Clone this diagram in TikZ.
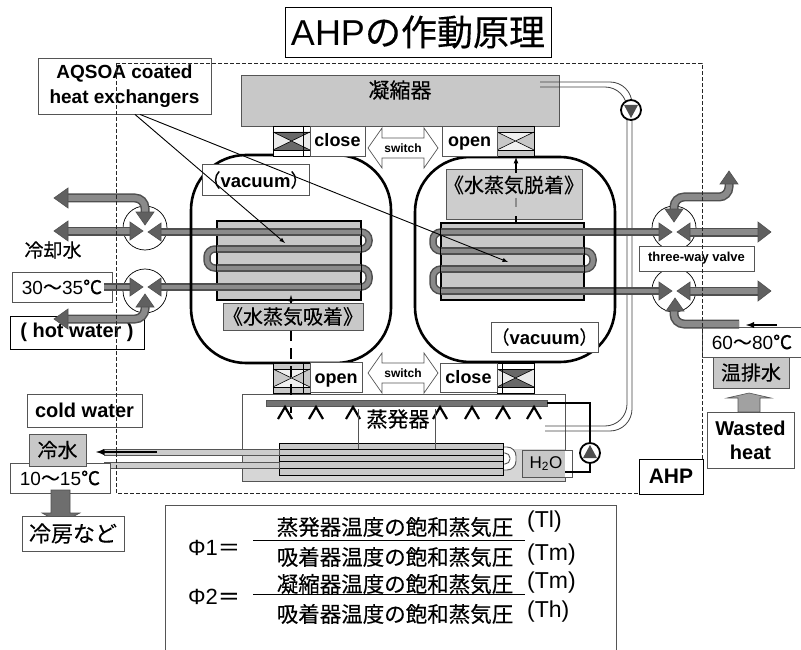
\documentclass[tikz,border=0pt]{standalone}
\usepackage{fontspec}
\setmainfont{Liberation Sans}
\newfontfamily\cjk[FakeBold=0.25]{Noto Sans CJK JP}
\usepackage{xcolor}
\usepackage{tikz}
\definecolor{panel}{HTML}{C8C8C8}
\definecolor{edgegray}{HTML}{555555}
\definecolor{tubedark}{HTML}{4F4F4F}
\definecolor{tubelight}{HTML}{8A8A8A}
\newcommand\fsz[1]{\fontsize{#1}{#1}\selectfont}
\newcommand\tipat[3]{\draw[tipmark,shift={(#1,#2)},rotate=#3] (0,0) -- (-13,-9) -- (-13,9) -- cycle;}
\tikzset{
  labelbox/.style={draw=edgegray,fill=white,line width=0.9pt,inner sep=0pt,align=center},
  graybox/.style={labelbox,fill=panel},
  gatelabel/.style={labelbox,boldtxt=18,text height=13pt,text depth=1pt},
  tube/.style={line width=7.5pt,draw=tubedark,rounded corners=8pt,postaction={draw=tubelight,line width=4.5pt}},
  duct/.style={line width=9pt,draw=tubedark,rounded corners=10pt,postaction={draw=tubelight,line width=6pt}},
  tipmark/.style={fill=gray!75!black,draw=tubedark,line width=0.6pt},
  gatebox/.style={draw=black,line width=0.8pt,inner sep=0pt,minimum width=37pt,minimum height=30pt},
  vesselline/.style={draw=black,line width=2.6pt,rounded corners=55pt},
  threeway/.style={circle,draw=black,line width=0.7pt,fill=white,minimum size=44pt,inner sep=0pt},
  pump/.style={circle,draw=black,line width=1.8pt,fill=white,minimum size=20pt,inner sep=0pt},
  chevron/.style={draw=black,line width=2.2pt},
  thinpipe/.style={draw=black!75,line width=0.8pt,rounded corners=22pt},
  boldtxt/.style={font=\bfseries\fsz{#1}},
  plain/.style={font=\cjk\fsz{#1},inner sep=0pt},
}
\begin{document}
\begin{tikzpicture}[x=1pt,y=-1pt]
  \useasboundingbox (0,0) rectangle (801,650);
  \node[labelbox,minimum width=266,minimum height=50,font=\fsz{36},draw=black] (title) at (418,32) {AHP{\cjk の作動原理}};

  % condenser and evaporator
  \node[graybox,minimum width=318,minimum height=51] (cond) at (400,100.5) {};
  \node[plain=21] (condtxt) at (400,90) {凝縮器};
  \draw[edgegray,line width=0.9pt] (242,394) rectangle (565,481);
  \fill[black!16] (242,449) rectangle (565,481);
  \draw[edgegray,line width=0.9pt] (242,394) rectangle (565,481);

  % double pipe behind everything
  \draw[thinpipe] (540,82) -- (632,82) -- (632,431) -- (545,431);
  \draw[thinpipe] (540,87) -- (627,87) -- (627,426) -- (545,426);
  \node[pump] (pumptop) at (631,110) {};
  \fill[tubedark] (624,105) -- (638,105) -- (631,118) -- cycle;

  % left and right heat exchangers
  \draw[tube] (355,232) -- (369,232) -- (369,249) -- (355,249);
  \draw[tube] (355,268) -- (369,268) -- (369,287) -- (355,287);
  \draw[tube] (225,249) -- (207,249) -- (207,268) -- (225,268);
  \draw[tube] (449,232) -- (433,232) -- (433,251) -- (449,251);
  \draw[tube] (449,269) -- (433,269) -- (433,291) -- (449,291);
  \draw[tube] (575,251) -- (593,251) -- (593,269) -- (575,269);
  \node[graybox,draw=black,line width=1.2pt,minimum width=144,minimum height=79] (hxleft) at (289,260.5) {};
  \node[graybox,draw=black,line width=1.2pt,minimum width=143,minimum height=77] (hxright) at (512.5,261.5) {};
  \foreach \y in {249,268}
    \draw[tube] (217,\y) -- (361,\y);
  \foreach \y in {251,269}
    \draw[tube] (441,\y) -- (584,\y);

  % three-way valves
  \node[threeway] (vlt) at (145,228) {};
  \node[threeway] (vlb) at (145,291) {};
  \node[threeway] (vrt) at (674,228) {};
  \node[threeway] (vrb) at (674,290) {};
  \draw[tube] (161,232) -- (361,232);
  \draw[tube] (161,287) -- (361,287);
  \draw[tube] (441,232) -- (660,232);
  \draw[tube] (441,291) -- (660,291);

  % boxes under the ducts
  \node[labelbox,minimum width=100,minimum height=30,font=\fsz{19}] (warm) at (62,287) {30{\cjk ～}35{\cjk ℃}};
  \node[labelbox,draw=black,minimum width=134,minimum height=33,boldtxt=20] (hot) at (77,332.5) {( hot water )};
  \node[labelbox,draw=none,fill=none,minimum width=100,minimum height=30,font=\fsz{19}] (hotin) at (752,342) {60{\cjk ～}80{\cjk ℃}};
  \draw[edgegray,line width=0.9pt] (801,327) -- (702,327) -- (702,357) -- (801,357);

  % ducts and arrow tips
  \draw[duct] (68,198) -- (145,198) -- (145,215);
  \draw[duct] (68,231) -- (130,231);
  \draw[tube] (104,287) -- (130,287);
  \draw[duct] (68,319) -- (145,319) -- (145,305);
  \draw[duct] (760,232) -- (690,232);
  \draw[duct] (760,291) -- (690,291);
  \draw[duct] (674,211) -- (674,197) -- (729,197) -- (729,181);
  \draw[duct] (674,311) -- (674,324) -- (739,324);
  \foreach \x/\y in {54/198,54/231,54/319}
    \draw[tipmark,shift={(\x,\y)}] (0,0) -- (14,-10) -- (14,10) -- cycle;
  \foreach \y in {232,291}
    \draw[tipmark,shift={(771,\y)}] (0,0) -- (-13,-10) -- (-13,10) -- cycle;
  \tipat{729}{171}{90}
  \foreach \x/\y in {143/231,143/287,672/232,672/291}
    {\tipat{\x}{\y}{0}}
  \foreach \x/\y in {148/232,148/287,677/232,677/291}
    {\tipat{\x}{\y}{180}}
  \foreach \x/\y in {145/225,674/222}
    {\tipat{\x}{\y}{270}}
  \foreach \x/\y in {145/294,675/298}
    {\tipat{\x}{\y}{90}}

  % vessels
  \draw[vesselline] (191,155) rectangle (391,363);
  \draw[vesselline] (415,157) rectangle (615,362);
  \node[labelbox,minimum width=101,minimum height=31,boldtxt=18.5] (vacleft) at (255.5,180) {{\mdseries\cjk （}vacuum{\mdseries\cjk ）}};
  \node[labelbox,minimum width=101,minimum height=30,boldtxt=18.5] (vacright) at (544.5,337) {{\mdseries\cjk （}vacuum{\mdseries\cjk ）}};

  % gate valves
  \foreach \n/\x/\y/\tb/\lr/\st/\vx in {gtl/273/126/tubelight!75!black/black!8/white/303,gbr/497/363/tubelight!75!black/black!8/white/502,gtr/497/126/black!6/panel/panel/497,gbl/273/363/black!6/panel/panel/303}{
    \node[gatebox,fill=\st] (\n) at (\x+18.5,\y+15) {};
    \fill[\lr] (\x,\y+6) rectangle (\x+37,\y+24);
    \fill[\tb] (\x,\y+6) -- (\x+37,\y+6) -- (\x+18.5,\y+15) -- cycle;
    \fill[\tb] (\x,\y+24) -- (\x+37,\y+24) -- (\x+18.5,\y+15) -- cycle;
    \draw[black,line width=0.6pt] (\x,\y+6) rectangle (\x+37,\y+24);
    \draw[black,line width=0.6pt] (\x,\y+6) -- (\x+37,\y+24) (\x+37,\y+6) -- (\x,\y+24);
    \draw[black,line width=0.6pt] (\vx,\y) -- (\vx,\y+30);
  }
  \node[gatelabel,minimum width=55,minimum height=30] (closetop) at (337.5,141) {close};
  \node[gatelabel,minimum width=55,minimum height=30] (opentop) at (469.5,141) {open};
  \node[gatelabel,minimum width=52,minimum height=30] (openbot) at (336,377.5) {open};
  \node[gatelabel,minimum width=57,minimum height=29] (closebot) at (468.5,377.5) {close};
  \foreach \y/\n in {148/switchtop,373/switchbot}{
    \draw[edgegray,fill=white,line width=0.7pt] (368,\y) -- (382,\y-20) -- (382,\y-10) -- (424,\y-10) -- (424,\y-20) -- (438,\y) -- (424,\y+20) -- (424,\y+10) -- (382,\y+10) -- (382,\y+20) -- cycle;
    \node[boldtxt=12,inner sep=0pt] (\n) at (403,\y) {switch};
  }

  % vapour paths
  \draw[black,line width=2.4pt,dash pattern=on 11pt off 7pt] (291,413) -- (291,306);
  \draw[black,line width=1.2pt,-latex] (291,306) -- (291,295);
  \node[graybox,minimum width=136,minimum height=27,font=\cjk\fsz{20}] (adsorb) at (293,316.5) {《水蒸気吸着》};
  \node[graybox,fill=panel!90,minimum width=136,minimum height=50] (desorb) at (514,194) {};
  \node[plain=20] (desorbtxt) at (514,185) {《水蒸気脱着》};
  \draw[black!45,line width=2.4pt] (516,198) -- (516,207);
  \draw[black,line width=2.4pt] (516,224) -- (516,216);
  \draw[black,line width=2.4pt] (516,173) -- (516,166);
  \draw[black,line width=1.2pt,-latex] (516,166) -- (516,157);

  % evaporator inside
  \draw[edgegray,fill=black!55!white,line width=0.9pt] (266,400) rectangle (547,406);
  \foreach \x in {285,316,353,440,472,503,534}
    \draw[chevron] (\x-7,419) -- (\x,407) -- (\x+7,419);
  \node[plain=21] (evaptxt) at (398,419) {蒸発器};
  \draw[edgegray,fill=white,line width=0.9pt,rounded corners=9pt] (503,447) -- (516,447) -- (516,470) -- (503,470);
  \draw[edgegray,fill=white,line width=0.9pt,rounded corners=5pt] (503,453) -- (510,453) -- (510,464) -- (503,464);
  \draw[black,line width=0.9pt,fill=panel] (279,443) rectangle (503,475);
  \foreach \y in {449,455,461,468}
    \draw[black,line width=0.9pt] (279,\y) -- (503,\y);
  \draw[edgegray,line width=0.9pt,fill=black!20] (104,449) rectangle (279,455);
  \draw[edgegray,line width=0.9pt,fill=black!20] (104,462) rectangle (279,468);
  \foreach \x in {358,435}
    \draw[edgegray,line width=0.9pt] (\x,409) -- (\x,449);
  \draw[edgegray,line width=0.9pt,fill=white] (522,450) rectangle (572,477);
  \fill[black!22] (522.5,450.5) rectangle (565,476.5);
  \draw[edgegray,line width=0.9pt] (522,450) rectangle (572,477);
  \node[font=\fsz{17},inner sep=0pt] (water) at (546,463.5) {H\textsubscript{2}O};
  \draw[black,line width=2pt] (547,403) -- (590,403) -- (590,472) -- (565,472);
  \node[pump] (pumpbot) at (590,453) {};
  \fill[tubedark] (583,458) -- (597,458) -- (590,445) -- cycle;
  \draw[black,line width=1.8pt,-latex] (157,452) -- (96,452);

  % labels left
  \node[labelbox,minimum width=115,minimum height=33,boldtxt=20] (coldlab) at (84.5,410.5) {cold water};
  \node[labelbox,minimum width=100,minimum height=30,font=\fsz{19}] (coldtemp) at (60,478) {10{\cjk ～}15{\cjk ℃}};
  \node[graybox,minimum width=57,minimum height=32,font=\cjk\fsz{20}] (coldwater) at (57.5,450) {冷水};
  \draw[tubedark,fill=tubelight!80!black,line width=0.6pt] (51,490) -- (70,490) -- (70,513) -- (80,513) -- (60.5,523) -- (42,513) -- (51,513) -- cycle;
  \node[labelbox,minimum width=102,minimum height=35,font=\cjk\fsz{22}] (cooling) at (73,533.5) {冷房など};
  \node[plain=19] (coolant) at (53,250) {冷却水};

  % labels right
  \node[graybox,minimum width=76,minimum height=31,font=\cjk\fsz{20}] (warmwater) at (751,372.5) {温排水};
  \draw[edgegray,fill=tubelight!80!white,line width=0.6pt] (738,412) -- (738,398) -- (727,398) -- (749,393) -- (771,398) -- (760,398) -- (760,412) -- cycle;
  \node[labelbox,minimum width=87,minimum height=56,boldtxt=20] (wasted) at (750.5,440) {Wasted\\[4pt]heat};
  \draw[black,line width=1.8pt,-latex] (777,325) -- (746,325);
  \node[labelbox,minimum width=115,minimum height=25,boldtxt=13] (threelab) at (696.5,258.5) {three-way valve};

  % leader lines
  \node[labelbox,minimum width=173,minimum height=56,boldtxt=19] (coated) at (124.5,86) {AQSOA coated\\[6pt]heat exchangers};
  \coordinate (leftend) at (285,243);
  \coordinate (rightend) at (508,262);
  \draw[black,line width=0.9pt,-latex] (coated.south -| 135,107) -- (leftend);
  \draw[black,line width=0.9pt,-latex] (coated.south -| 140,107) -- (rightend);

  % AHP boundary
  \draw[black!85,line width=0.9pt,dash pattern=on 4pt off 2pt] (116,63) rectangle (702,493);
  \node[labelbox,draw=black,minimum width=64,minimum height=35,boldtxt=21] (ahp) at (671,476.5) {AHP};

  % formula panel
  \draw[edgegray,line width=0.9pt] (165,650) -- (165,505) -- (616,505) -- (616,650);
  \node[font=\fsz{22},inner sep=0pt] (phione) at (214,548) {Φ1{\cjk ＝}};
  \node[font=\fsz{22},inner sep=0pt] (phitwo) at (214,597) {Φ2{\cjk ＝}};
  \draw[black,line width=0.9pt] (253,540) -- (525,540);
  \draw[black,line width=0.9pt] (253,594) -- (525,594);
  \foreach \y/\n/\t in {527/numone/蒸発器温度の飽和蒸気圧,557/denone/吸着器温度の飽和蒸気圧,584/numtwo/凝縮器温度の飽和蒸気圧,614/dentwo/吸着器温度の飽和蒸気圧}
    \node[plain=21.5] (\n) at (395,\y) {\t};
  \foreach \y/\n/\t in {522/tl/(Tl),555/tma/(Tm),583/tmb/(Tm),612/th/(Th)}
    \node[font=\fsz{23},inner sep=0pt,anchor=west] (\n) at (527,\y) {\t};
\end{tikzpicture}
\end{document}
